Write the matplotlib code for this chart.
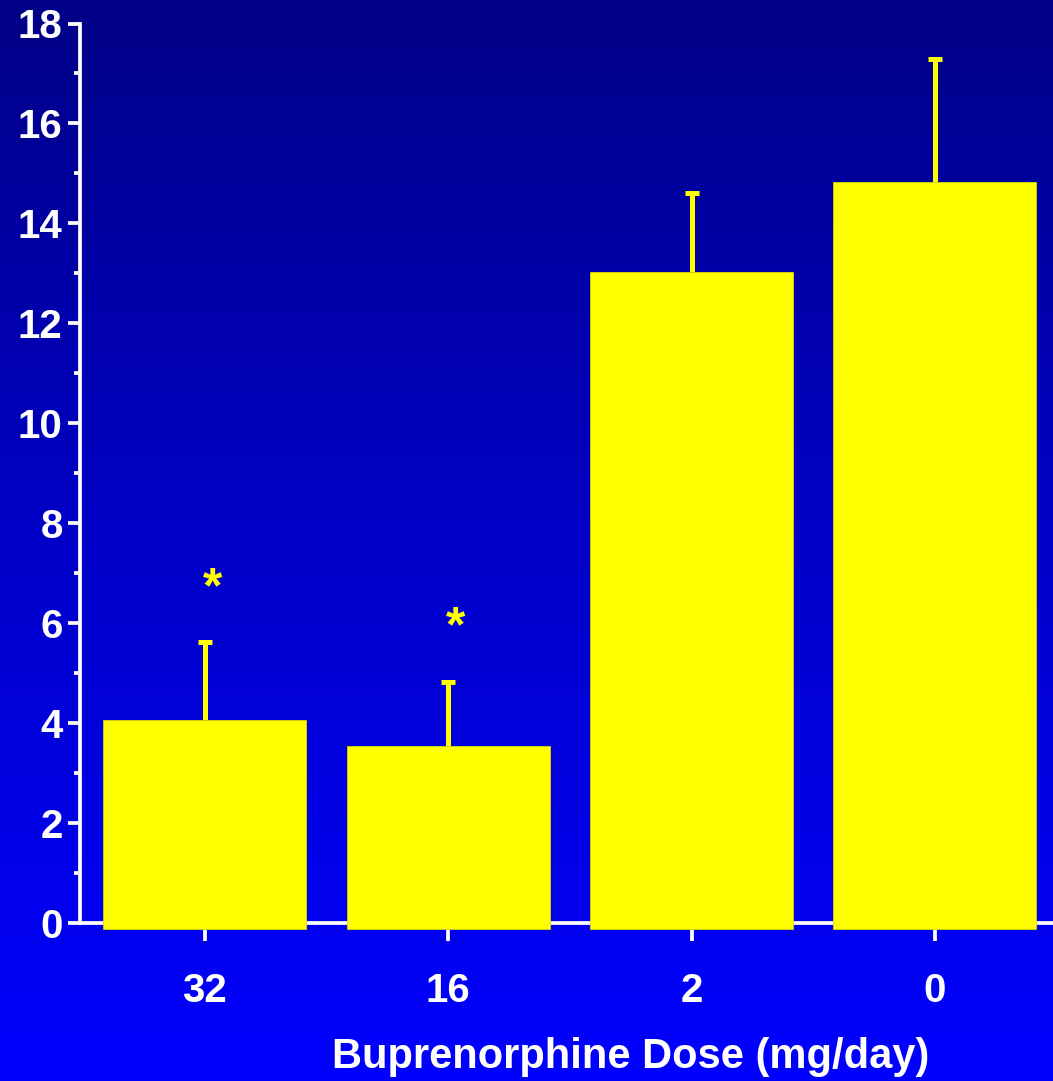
import matplotlib
matplotlib.use("Agg")
import matplotlib.pyplot as plt
import numpy as np
from matplotlib.colors import LinearSegmentedColormap

categories = ["32", "16", "2", "0"]
values = [4.07, 3.54, 13.03, 14.82]
err_up = [1.56, 1.28, 1.58, 2.47]
star_y = [6.78, 6.0]
xlabel = "Buprenorphine Dose (mg/day)"

plt.rcParams['font.family'] = ['Liberation Sans', 'DejaVu Sans']
plt.rcParams['font.weight'] = 'bold'

W, H = 1053, 1081
fig = plt.figure(figsize=(W / 100, H / 100), dpi=100)

# gradient background
bg = fig.add_axes([0, 0, 1, 1], zorder=0)
cmap = LinearSegmentedColormap.from_list("bg", ["#000086", "#0000c8", "#0000ff"])
grad = np.linspace(0, 1, 256).reshape(-1, 1)
bg.imshow(grad, aspect='auto', cmap=cmap, extent=[0, 1, 0, 1], origin='upper')
bg.set_axis_off()

ppu = (923 - 23.5) / 18.0
ybot = -0.3
ax_bottom_px = 923 + (-ybot) * ppu
ax = fig.add_axes([80 / W, 1 - ax_bottom_px / H, 1 - 80 / W, (ax_bottom_px - 23.5) / H], zorder=1)
ax.patch.set_alpha(0)

x = np.arange(len(categories))
base = -0.13
ax.bar(x, np.array(values) - base, bottom=base, width=0.834, color="#ffff00",
       edgecolor="#d8d800", linewidth=0.6, zorder=3)
eb = ax.errorbar(x, values, yerr=[np.zeros(len(values)), err_up], fmt='none',
                 ecolor="#ffff00", elinewidth=3.6, capsize=4.7, capthick=3.6, zorder=2)
eb[1][0].set_visible(False)

for xi, sy in zip(x[:2], star_y):
    ax.text(xi + 0.03, sy, "*", color="#ffff00", fontsize=36, fontweight='bold',
            ha='center', va='center_baseline', zorder=4)

ax.set_xlim(-0.513, 3.485)
ax.set_ylim(ybot, 18)

for s in ['top', 'right']:
    ax.spines[s].set_visible(False)
ax.spines['left'].set_bounds(0, 18)
ax.spines['bottom'].set_position(('data', 0))
for s in ['left', 'bottom']:
    ax.spines[s].set_color('white')
    ax.spines[s].set_linewidth(2.7)

ax.set_yticks(np.arange(0, 19, 2))
ax.set_yticks(np.arange(1, 18, 2), minor=True)
ax.set_xticks(x)
ax.set_xticklabels(categories)
ax.tick_params(axis='y', which='major', length=9, width=2.7, color='white',
               labelcolor='white', labelsize=29, pad=3.5)
ax.tick_params(axis='y', which='minor', length=4, width=2.7, color='white')
ax.tick_params(axis='x', which='major', length=13, width=2.7, color='white',
               labelcolor='white', labelsize=29, pad=22)
for lab in ax.get_xticklabels() + ax.get_yticklabels():
    lab.set_fontweight('bold')

fig.text(631 / W, 1 - 1057 / H, xlabel, color='white', fontsize=30,
         fontweight='bold', ha='center', va='center')

fig.savefig("out.png", dpi=100)
